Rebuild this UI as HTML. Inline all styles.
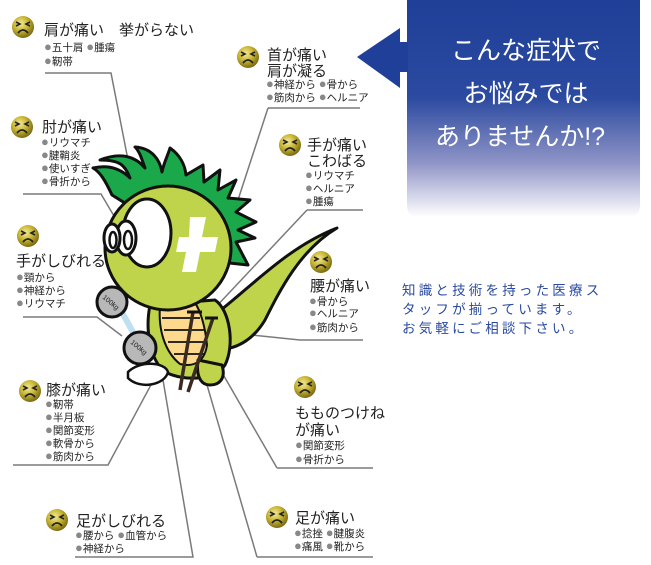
<!DOCTYPE html>
<html><head><meta charset="utf-8"><style>
html,body{margin:0;padding:0;background:#fff}
svg{display:block}
.t{font-family:"Liberation Sans","Noto Sans CJK JP",sans-serif;fill:#222;font-size:15px}
.i{font-family:"Liberation Sans","Noto Sans CJK JP",sans-serif;fill:#222;font-size:10.5px}
.b{fill:#888;font-size:13px}
.ln{stroke:#7a7a7a;stroke-width:1.5;fill:none}
</style></head><body>
<svg width="651" height="565" viewBox="0 0 651 565" xmlns="http://www.w3.org/2000/svg">
<defs>
<radialGradient id="fg" cx="40%" cy="35%" r="65%"><stop offset="0" stop-color="#f4ec9a"/><stop offset="0.5" stop-color="#c9b636"/><stop offset="1" stop-color="#7c6c12"/></radialGradient>
<linearGradient id="bx" x1="0" y1="0" x2="0" y2="1"><stop offset="0" stop-color="#1f3f98"/><stop offset="0.45" stop-color="#2b4aa0"/><stop offset="0.75" stop-color="#8f94c6"/><stop offset="1" stop-color="#ffffff"/></linearGradient>
<g id="face"><circle r="11" fill="url(#fg)"/><path d="M-7,-5 l4,2 l-4,2 M7,-5 l-4,2 l4,2" stroke="#222" stroke-width="1.6" fill="none"/><path d="M-5,6 q5,-6 10,0" stroke="#222" stroke-width="1.8" fill="none"/></g>
</defs>

<path d="M407,0 H640 V205 Q640,217 628,217 H419 Q407,217 407,205 Z" fill="url(#bx)"/>
<path d="M357,57 L400,28 V42 H408 V72 H400 V88 Z" fill="#1f3f98"/>
<g font-family="Liberation Sans,Noto Sans CJK JP,sans-serif" font-size="25" fill="#fff" text-anchor="middle">
<text x="526" y="59">こんな症状で</text>
<text x="526" y="102">お悩みでは</text>
<text x="520" y="145">ありませんか!?</text>
</g>
<g font-family="Liberation Sans,Noto Sans CJK JP,sans-serif" font-size="13.5" fill="#2a4aa0" letter-spacing="3.2">
<text x="402" y="295">知識と技術を持った医療ス</text>
<text x="402" y="314">タッフが揃っています。</text>
<text x="402" y="333">お気軽にご相談下さい。</text>
</g>

<g class="ln">
<path d="M45,73 H111 L128,160"/>
<path d="M23,194 H101 L114,216"/>
<path d="M23,317 H97 L122,336"/>
<path d="M13,465 H108 L160,368"/>
<path d="M75,557 H193 L163,380"/>
<path d="M257,557 H373 M257,557 L205,378"/>
<path d="M277,468 H373 M277,468 L213,357"/>
<path d="M223,332 L300,340 H363"/>
<path d="M307,210 H363 M307,210 L213,310"/>
<path d="M268,108 H360 M268,108 L237,203"/>
</g>

<g stroke="#111" stroke-width="3" stroke-linejoin="round">
<path d="M200,325 C240,300 280,250 337,228 C300,250 280,290 265,320 C250,345 230,350 215,350 Z" fill="#bfd44a"/>
<path d="M112,195 C105,180 100,172 93,168 C110,164 122,170 130,178 C125,165 120,160 100,160 C120,152 135,156 145,168 C142,160 140,152 135,147 C152,148 160,160 162,172 C164,162 168,155 170,148 C180,155 185,165 186,175 L203,165 L204,182 L220,170 L218,190 L236,180 L228,198 L250,200 L236,212 L256,222 L238,230 L255,238 L236,242 L248,265 L220,262 Z" fill="#1aa84a"/>
<path d="M150,305 C145,330 150,360 165,372 C185,382 215,380 225,365 C235,345 230,310 215,300 Z" fill="#bfd44a"/>
<path d="M160,306 C158,330 165,352 180,364 C195,368 205,360 207,345 C205,325 200,310 195,303 Z" fill="#fcd98c" stroke-width="2"/>
<path d="M162,318 H200 M164,330 H204 M168,342 H206 M174,354 H205" stroke-width="1.8"/>
<path d="M198,360 C196,375 200,385 210,385 C220,385 226,378 222,365 Z" fill="#bfd44a"/>
<ellipse cx="168" cy="248" rx="63" ry="62" fill="#bfd44a"/>
<ellipse cx="147" cy="233" rx="24" ry="34" fill="#fff"/>
<ellipse cx="126" cy="238" rx="10" ry="17" fill="#fff"/>
<ellipse cx="112" cy="238" rx="8" ry="14" fill="#fff"/>
<ellipse cx="128" cy="240" rx="4" ry="9" fill="#fff" stroke-width="2.5"/>
<ellipse cx="113" cy="240" rx="3.5" ry="8" fill="#fff" stroke-width="2.5"/>
</g>
<path d="M190,217 H206 L202,237 H218 L215,252 H200 L196,272 H182 L186,252 H176 L179,237 H189 Z" fill="#fff"/>
<g stroke="#111" stroke-width="3">
<line x1="118" y1="305" x2="140" y2="345" stroke="#bfe0f0" stroke-width="6"/>
<circle cx="112" cy="302" r="15" fill="#b8b8b8"/>
<circle cx="140" cy="348" r="16" fill="#b8b8b8"/>
<path d="M128,372 C140,360 165,362 168,372 C165,385 140,390 128,378 Z" fill="#fff" stroke-width="2.5"/>
<path d="M193,312 L180,390 M213,318 L188,392" stroke-width="3.5" stroke="#3a2a20"/>
<path d="M187,312 H202 M205,318 H218" stroke-width="3"/>
</g>
<g font-family="Liberation Sans,sans-serif" font-size="7" fill="#222">
<text x="102" y="298" transform="rotate(40 102 298)">100kg</text>
<text x="130" y="343" transform="rotate(40 130 343)">100kg</text>
</g>

<use href="#face" x="23" y="27"/>
<text class="t" x="44" y="35">肩が痛い　挙がらない</text>
<g class="i"><text x="44" y="51"><tspan class="b">●</tspan>五十肩 <tspan class="b">●</tspan>腫瘍</text><text x="44" y="65"><tspan class="b">●</tspan>靭帯</text></g>

<use href="#face" x="22" y="127"/>
<text class="t" x="42" y="132">肘が痛い</text>
<g class="i"><text x="41" y="146"><tspan class="b">●</tspan>リウマチ</text><text x="41" y="159"><tspan class="b">●</tspan>腱鞘炎</text><text x="41" y="172"><tspan class="b">●</tspan>使いすぎ</text><text x="41" y="185"><tspan class="b">●</tspan>骨折から</text></g>

<use href="#face" x="28" y="236"/>
<text class="t" x="16" y="266">手がしびれる</text>
<g class="i"><text x="16" y="281"><tspan class="b">●</tspan>頸から</text><text x="16" y="294"><tspan class="b">●</tspan>神経から</text><text x="16" y="307"><tspan class="b">●</tspan>リウマチ</text></g>

<use href="#face" x="30" y="391"/>
<text class="t" x="46" y="395">膝が痛い</text>
<g class="i"><text x="45" y="408"><tspan class="b">●</tspan>靭帯</text><text x="45" y="421"><tspan class="b">●</tspan>半月板</text><text x="45" y="434"><tspan class="b">●</tspan>関節変形</text><text x="45" y="447"><tspan class="b">●</tspan>軟骨から</text><text x="45" y="460"><tspan class="b">●</tspan>筋肉から</text></g>

<use href="#face" x="57" y="520"/>
<text class="t" x="76" y="526">足がしびれる</text>
<g class="i"><text x="75" y="539"><tspan class="b">●</tspan>腰から <tspan class="b">●</tspan>血管から</text><text x="75" y="552"><tspan class="b">●</tspan>神経から</text></g>

<use href="#face" x="277" y="517"/>
<text class="t" x="295" y="523">足が痛い</text>
<g class="i"><text x="294" y="537"><tspan class="b">●</tspan>捻挫 <tspan class="b">●</tspan>腱腹炎</text><text x="294" y="550"><tspan class="b">●</tspan>痛風 <tspan class="b">●</tspan>靴から</text></g>

<use href="#face" x="305" y="387"/>
<text class="t" x="295" y="418">もものつけね</text>
<text class="t" x="295" y="435">が痛い</text>
<g class="i"><text x="295" y="449"><tspan class="b">●</tspan>関節変形</text><text x="295" y="463"><tspan class="b">●</tspan>骨折から</text></g>

<use href="#face" x="321" y="262"/>
<text class="t" x="310" y="291">腰が痛い</text>
<g class="i"><text x="309" y="305"><tspan class="b">●</tspan>骨から</text><text x="309" y="317"><tspan class="b">●</tspan>ヘルニア</text><text x="309" y="331"><tspan class="b">●</tspan>筋肉から</text></g>

<use href="#face" x="290" y="145"/>
<text class="t" x="307" y="150">手が痛い</text>
<text class="t" x="307" y="166">こわばる</text>
<g class="i"><text x="305" y="179"><tspan class="b">●</tspan>リウマチ</text><text x="305" y="192"><tspan class="b">●</tspan>ヘルニア</text><text x="305" y="205"><tspan class="b">●</tspan>腫瘍</text></g>

<use href="#face" x="248" y="57"/>
<text class="t" x="267" y="60">首が痛い</text>
<text class="t" x="267" y="76">肩が凝る</text>
<g class="i"><text x="266" y="88"><tspan class="b">●</tspan>神経から <tspan class="b">●</tspan>骨から</text><text x="266" y="101"><tspan class="b">●</tspan>筋肉から <tspan class="b">●</tspan>ヘルニア</text></g>
</svg>
</body></html>
